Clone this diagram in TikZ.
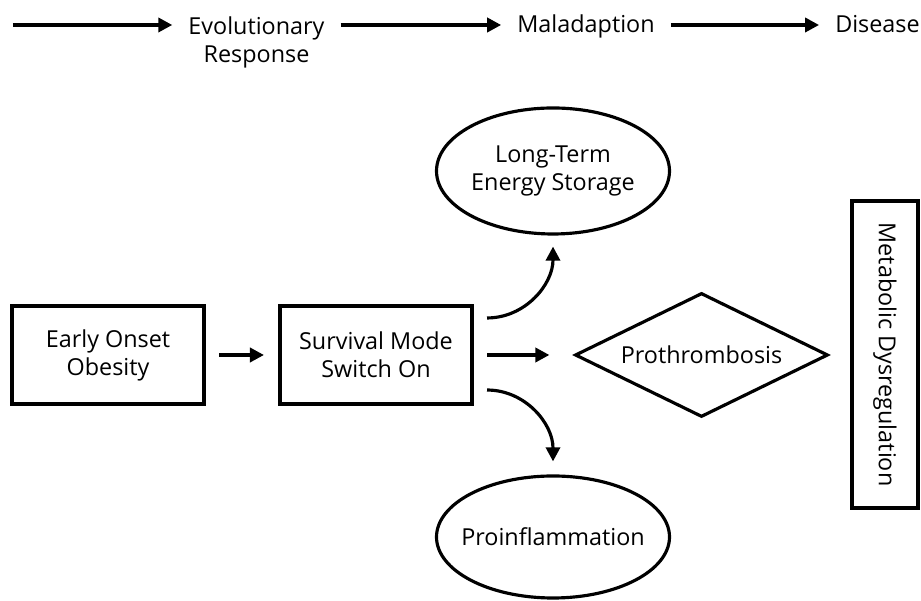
\documentclass[tikz,border=0pt]{standalone}
\usepackage{fontspec}
\setmainfont{Open Sans}
\usepackage{tikz}
\usetikzlibrary{shapes.geometric,arrows.meta}
\tikzset{box/.style={rectangle,draw,line width=2.3pt,align=center,minimum width=3.84cm,minimum height=1.96cm},
         oval/.style={ellipse,draw,line width=1.8pt,inner sep=0pt,minimum width=4.66cm,minimum height=2.46cm},
         stage/.style={align=center,anchor=base,inner xsep=9pt},
         flow/.style={line width=2.3pt,-{Triangle[length=8pt,width=8pt]}},
         curve/.style={line width=1.8pt,-{Triangle[length=8pt,width=8pt]}}}

\begin{document}
\begin{tikzpicture}[font=\fontsize{13.3}{16}\selectfont]
    \useasboundingbox (0,0) rectangle (18.42,12.02);

    % stages along the top
    \coordinate (start) at (0.26,11.52);
    \node[stage] (evo) at (5.13,10.76) {Evolutionary\\Response};
    \node[stage] (mal) at (11.72,11.36) {Maladaption};
    \node[stage] (dis) at (17.55,11.36) {Disease};

    \draw [flow] (start) -- (start -| evo.west);
    \draw [flow] (evo.east |- start) -- (start -| mal.west);
    \draw [flow] (mal.east |- start) -- (start -| dis.west);

    % main row
    \node[box] (obese) at (2.16,4.92) {Early Onset\\Obesity};
    \node[box] (surv) at (7.52,4.92) {Survival Mode\\Switch On};
    \node[diamond,draw,line width=1.8pt,aspect=2,minimum width=5.06cm,minimum height=2.48cm] (thromb) at (14.03,4.92) {Prothrombosis};
    \node[oval,minimum height=2.52cm,label={[align=center]center:{Long-Term\\Energy Storage}}] (store) at (11.06,8.6) {};
    \node[oval,minimum height=2.44cm,label={center:Proinflammation}] (infl) at (11.06,1.28) {};
    \node[box,rotate=-90,minimum width=6.14cm,minimum height=1.32cm] (meta) at (17.7,4.93) {Metabolic Dysregulation};

    \draw [flow,shorten <=0.26cm,shorten >=0.28cm] (obese) -- (surv);
    \draw [flow,shorten <=0.26cm,shorten >=0.48cm] (surv.east) -- (thromb.west);
    \draw [curve] ([shift={(0.26,-0.28)}]surv.north east) to [out=0,in=-90] ([yshift=-0.22cm]store.south);
    \draw [curve] ([shift={(0.26,0.32)}]surv.south east) to [out=0,in=90] ([yshift=0.26cm]infl.north);
\end{tikzpicture}
\end{document}
